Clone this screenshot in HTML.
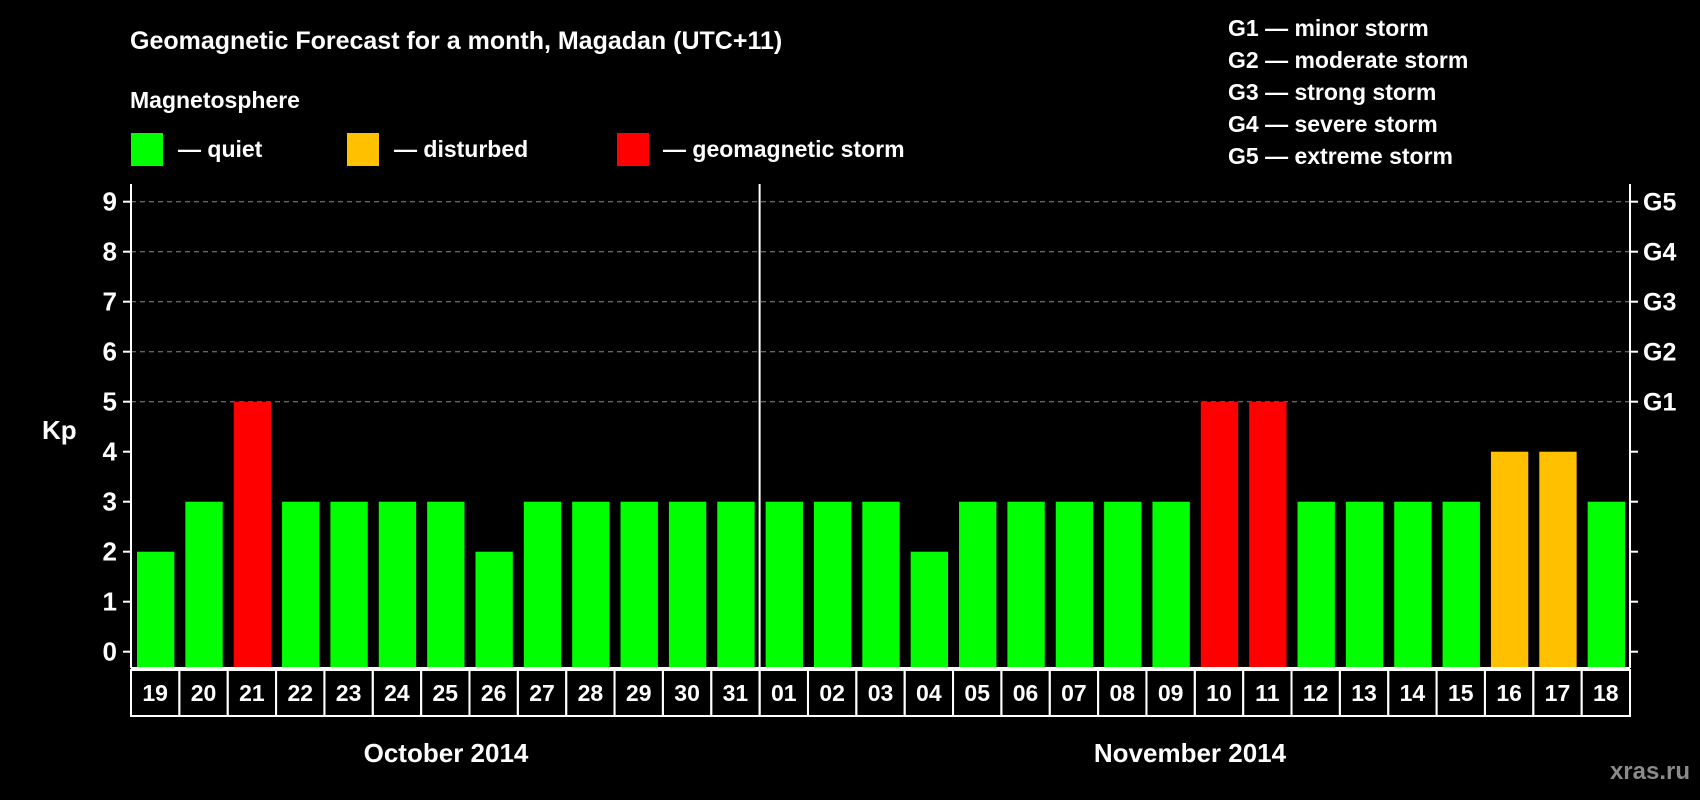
<!DOCTYPE html>
<html><head><meta charset="utf-8"><style>
html,body{margin:0;padding:0;background:#000}
svg{display:block}
text{font-family:"Liberation Sans",Arial,sans-serif;font-weight:bold;fill:#fff}
</style></head><body>
<svg id="chart" width="1700" height="800" viewBox="0 0 1700 800" xmlns="http://www.w3.org/2000/svg">
<rect width="1700" height="800" fill="#000"/>
<text x="130" y="49" font-size="25">Geomagnetic Forecast for a month, Magadan (UTC+11)</text>
<text x="130" y="108" font-size="23">Magnetosphere</text>
<g><rect x="131" y="133" width="32" height="33" fill="#00ff00"/><text x="178" y="157" font-size="23">— quiet</text></g>
<g><rect x="347" y="133" width="32" height="33" fill="#ffc000"/><text x="394" y="157" font-size="23">— disturbed</text></g>
<g><rect x="617" y="133" width="32" height="33" fill="#ff0000"/><text x="663" y="157" font-size="23">— geomagnetic storm</text></g>
<g font-size="23">
<text x="1228" y="36">G1 — minor storm</text>
<text x="1228" y="68">G2 — moderate storm</text>
<text x="1228" y="100">G3 — strong storm</text>
<text x="1228" y="132">G4 — severe storm</text>
<text x="1228" y="164">G5 — extreme storm</text>
</g>
<text x="42" y="439" font-size="26">Kp</text>
<text x="1690" y="779" font-size="24" text-anchor="end" style="fill:#8a8a8a">xras.ru</text>
<g id="grid"></g><g id="bars"></g><g id="axes"></g><g id="days"></g>
<text x="446" y="762" font-size="26" text-anchor="middle">October 2014</text>
<text x="1190" y="762" font-size="26" text-anchor="middle">November 2014</text>
</svg>
<script>
const days = ["19","20","21","22","23","24","25","26","27","28","29","30","31","01","02","03","04","05","06","07","08","09","10","11","12","13","14","15","16","17","18"];
const kpValues = [2,3,5,3,3,3,3,2,3,3,3,3,3,3,3,3,2,3,3,3,3,3,5,5,3,3,3,3,4,4,3];
const yTicks = [0,1,2,3,4,5,6,7,8,9];
const gLabels = ["","","","","","G1","G2","G3","G4","G5"];
const NS="http://www.w3.org/2000/svg";
const L=131,R=1630,Y0=651.7,U=50,TOP=184,BOT=668;
const bw=(R-L)/days.length;
const x=i=>L+i*bw, y=v=>Y0-v*U;
function mk(tag,attrs,parent){const e=document.createElementNS(NS,tag);for(const k in attrs)e.setAttribute(k,attrs[k]);parent.appendChild(e);return e;}
const color=v=>v>=5?"#ff0000":v>=4?"#ffc000":"#00ff00";
const grid=document.getElementById('grid'),bars=document.getElementById('bars'),axes=document.getElementById('axes'),dg=document.getElementById('days');
yTicks.forEach(t=>{
 if(t>=5){const g=mk('line',{x1:L,x2:R,y1:y(t),y2:y(t),stroke:'#888','stroke-dasharray':'5,4','stroke-width':1},grid);
 
 }
 const tl=mk('line',{x1:L-8,x2:L,y1:y(t),y2:y(t),stroke:'#fff','stroke-width':2},axes);
 
 
 const tr=mk('line',{x1:R,x2:R+8,y1:y(t),y2:y(t),stroke:'#fff','stroke-width':2},axes);
 
 
 const lb=mk('text',{x:L-14,y:y(t)+9,'font-size':26,'text-anchor':'end'},axes);lb.textContent=t;
 
 
 if(gLabels[t]){const gl=mk('text',{x:R+13,y:y(t)+9,'font-size':25},axes);gl.textContent=gLabels[t];
 
 }
});
kpValues.forEach((v,i)=>{
 const b=mk('rect',{x:x(i)+6,y:y(v),width:bw-12+1,height:BOT-y(v),fill:color(v)},bars);
 
 
});
[[L,TOP,L,BOT],[R,TOP,R,BOT],[x(13),TOP,x(13),716],[L,BOT,R,BOT]].forEach(c=>{
 const a=mk('line',{x1:c[0],y1:c[1],x2:c[2],y2:c[3],stroke:'#fff','stroke-width':2},axes);
 
 
});
days.forEach((d,i)=>{
 const c=mk('rect',{x:x(i),y:670,width:bw,height:46,fill:'none',stroke:'#fff','stroke-width':2},dg);
 
 
 const t=mk('text',{x:x(i)+bw/2,y:701,'font-size':23,'text-anchor':'middle'},dg);t.textContent=d;
 
 
});
</script>
</body></html>
